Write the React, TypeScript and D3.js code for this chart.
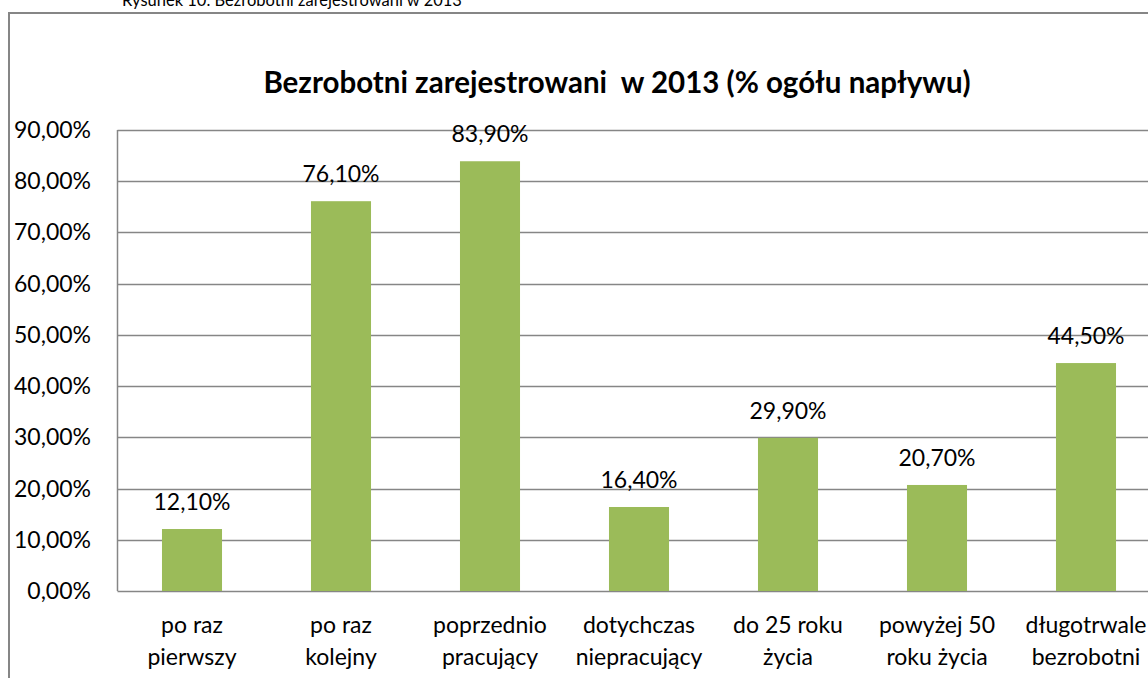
import React from "react";
import * as d3 from "d3";

const categories: string[][] = [
  ["po raz", "pierwszy"],
  ["po raz", "kolejny"],
  ["poprzednio", "pracujący"],
  ["dotychczas", "niepracujący"],
  ["do 25 roku", "życia"],
  ["powyżej 50", "roku życia"],
  ["długotrwale", "bezrobotni"],
];
const values: number[] = [12.1, 76.1, 83.9, 16.4, 29.9, 20.7, 44.5];
const yTicks: number[] = [0, 10, 20, 30, 40, 50, 60, 70, 80, 90];

const W = 1148;
const H = 678;
const FONT = "Lato, 'Open Sans', sans-serif";

const fmt = (v: number) => v.toFixed(2).replace(".", ",") + "%";

export default function App() {
  const left = 117.5;
  const step = 149;
  const plotRight = left + categories.length * step;
  const top = 130;
  const bottom = 591;
  const x = d3
    .scaleBand<number>()
    .domain(d3.range(categories.length))
    .range([left, plotRight])
    .paddingInner(0.597)
    .paddingOuter(0.2985);
  const y = d3.scaleLinear().domain([0, 90]).range([bottom, top]);

  return (
    <svg
      width={W}
      height={H}
      style={{ position: "absolute", left: 0, top: 0, background: "#fff" }}
      fontFamily={FONT}
    >
      <text x={122} y={6} fontSize={16.5} fill="#000">
        Rysunek 10. Bezrobotni zarejestrowani w 2013
      </text>
      <rect x={9} y={13} width={1200} height={700} fill="#fff" stroke="#868686" strokeWidth={2} />
      <text
        x={617}
        y={93}
        textAnchor="middle"
        fontSize={29.5}
        fontWeight="bold"
        fill="#000"
        style={{ whiteSpace: "pre" }}
      >
        Bezrobotni zarejestrowani  w 2013 (% ogółu napływu)
      </text>
      {yTicks.map((t) => (
        <g key={t}>
          <line
            x1={left}
            x2={plotRight}
            y1={Math.round(y(t)) + 0.5}
            y2={Math.round(y(t)) + 0.5}
            stroke="#868686"
            strokeWidth={1.5}
          />
          <text x={91} y={y(t) + 8} textAnchor="end" fontSize={23} fill="#000">
            {fmt(t)}
          </text>
        </g>
      ))}
      <line x1={left} x2={left} y1={top} y2={bottom} stroke="#868686" strokeWidth={1.5} />
      {values.map((v, i) => {
        const bx = x(i)!;
        const bw = x.bandwidth();
        const cx = bx + bw / 2;
        return (
          <g key={i}>
            <rect x={bx} y={y(v)} width={bw} height={bottom - y(v)} fill="#9bbb59" />
            <text x={cx} y={y(v) - 19} textAnchor="middle" fontSize={23} fill="#000">
              {fmt(v)}
            </text>
            {categories[i].map((line, j) => (
              <text
                key={j}
                x={cx}
                y={633 + j * 32}
                textAnchor="middle"
                fontSize={23}
                fill="#000"
              >
                {line}
              </text>
            ))}
          </g>
        );
      })}
    </svg>
  );
}
